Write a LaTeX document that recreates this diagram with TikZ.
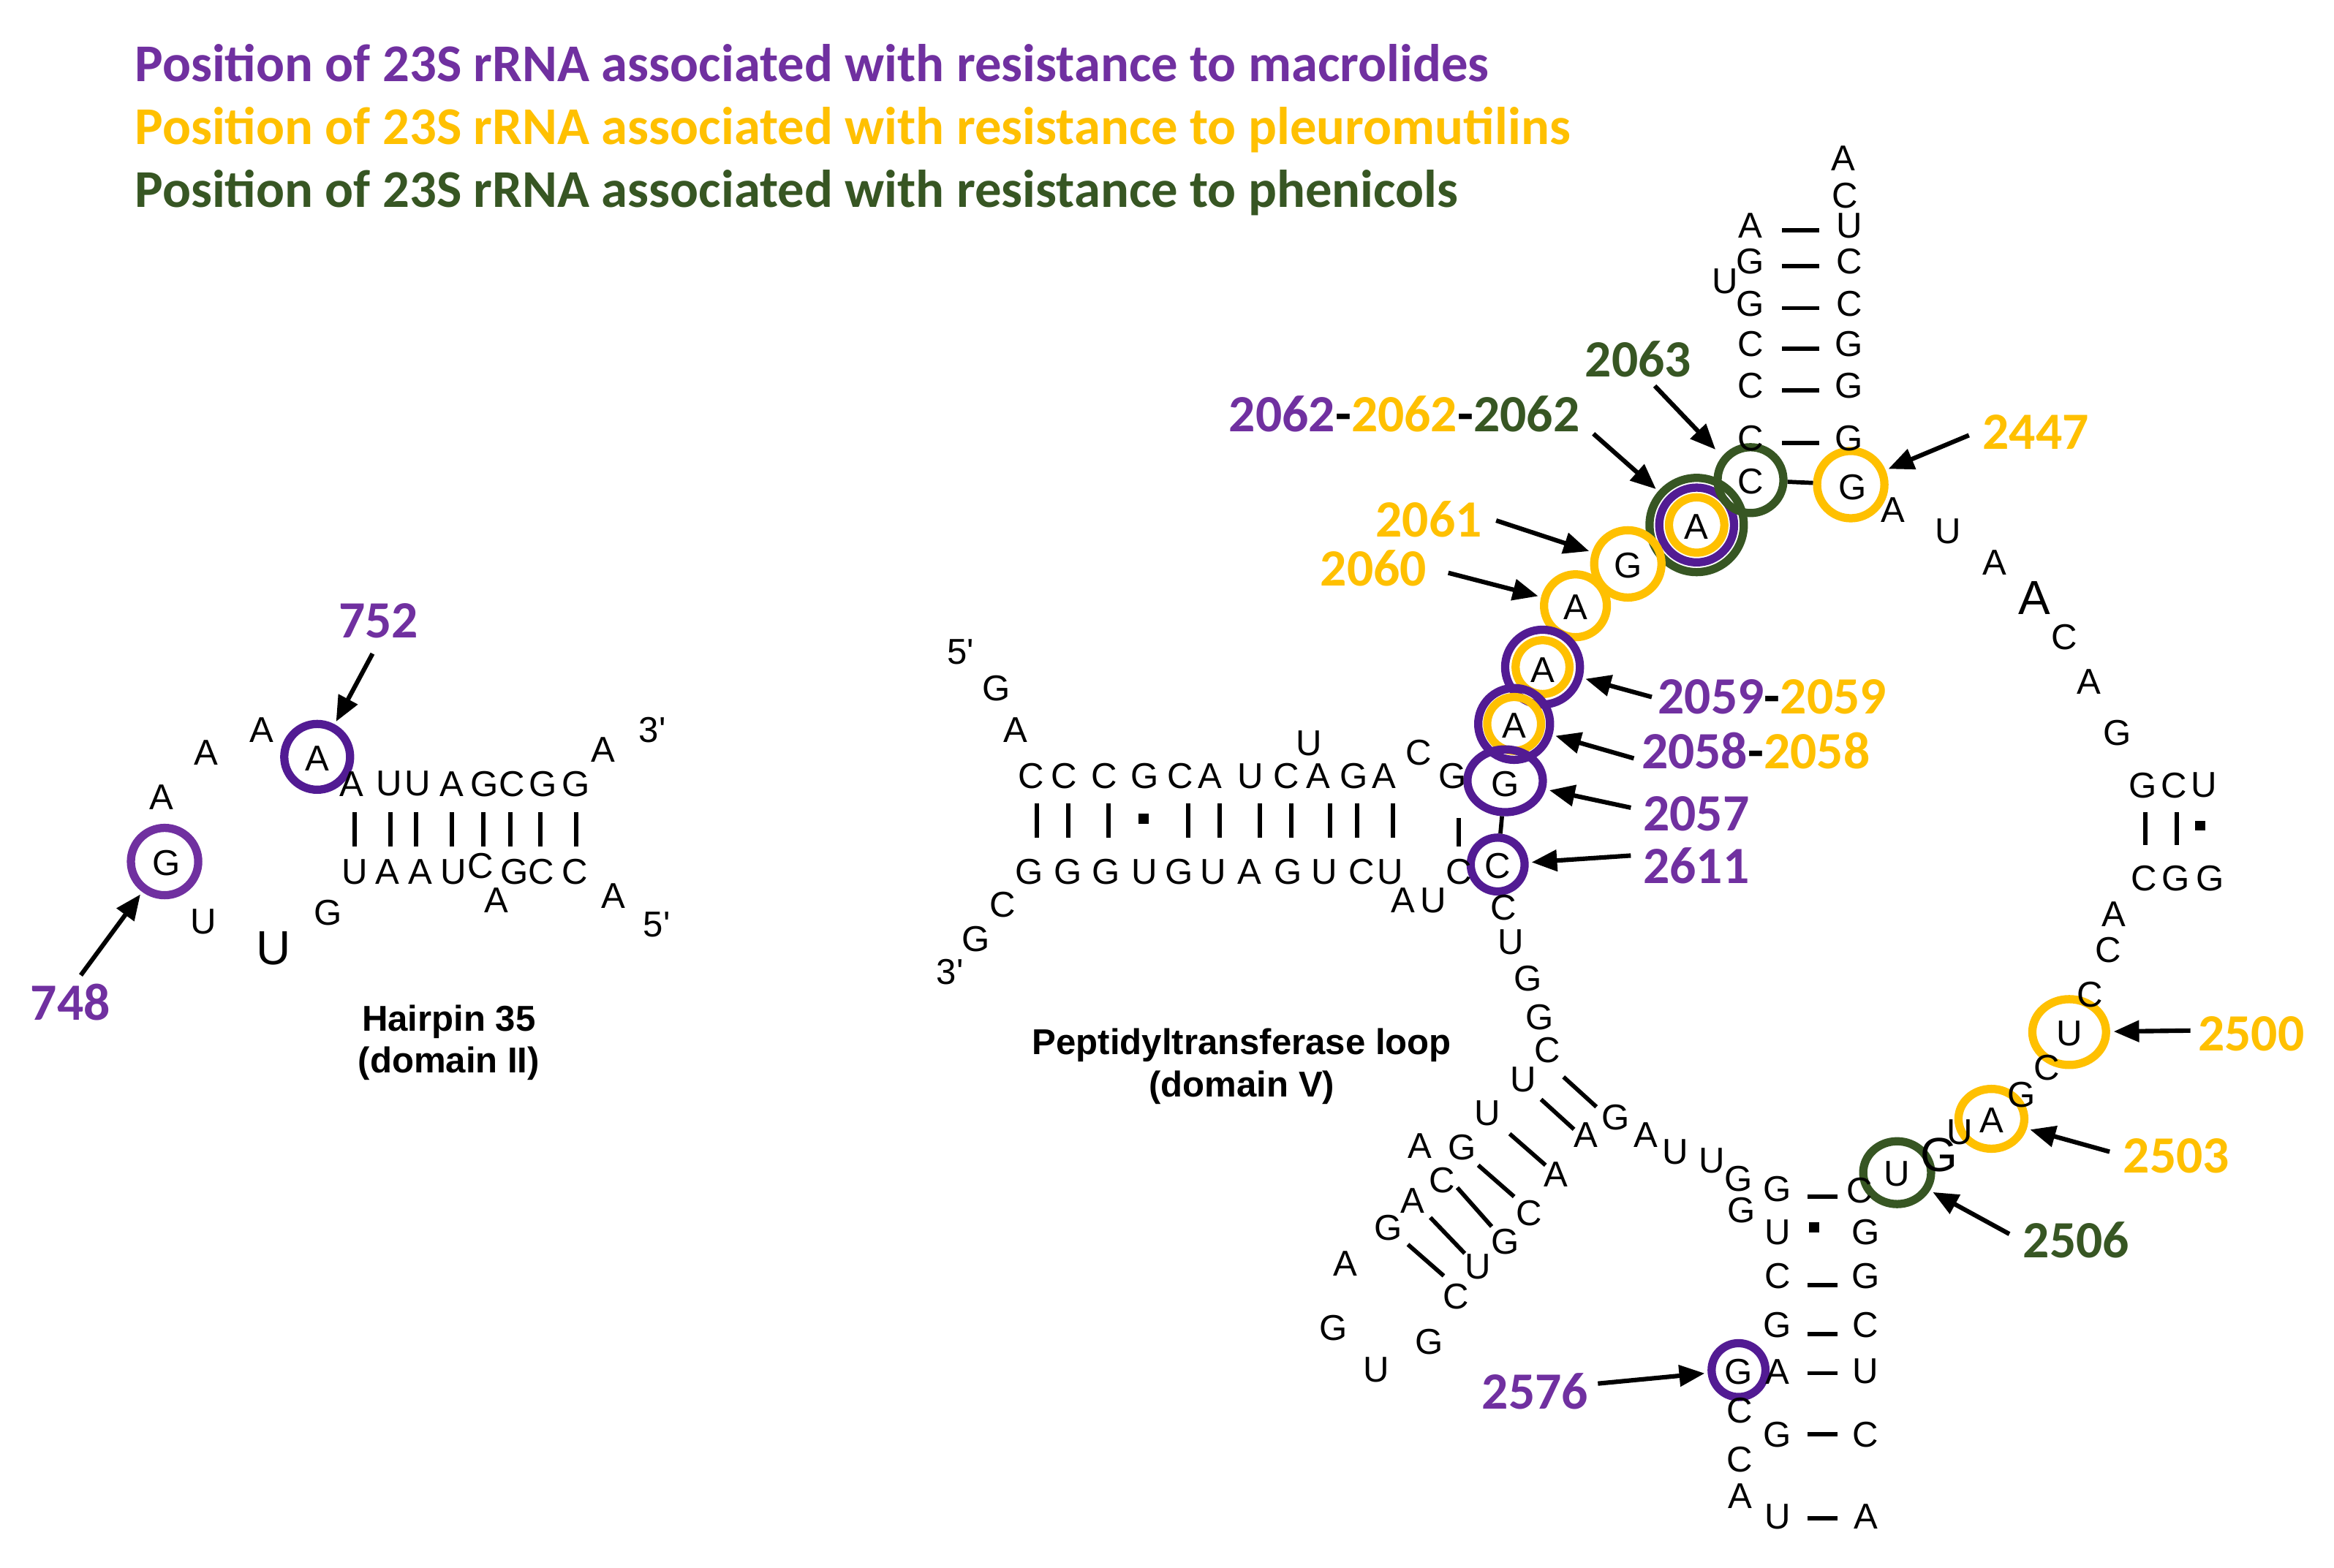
\documentclass[tikz,border=0pt]{standalone}
\usepackage{fontspec}
\setmainfont{Liberation Sans}
\newfontfamily\carl{Carlito}
\usetikzlibrary{arrows.meta}
\definecolor{mpur}{HTML}{7030A0}
\definecolor{cpur}{HTML}{521B93}
\definecolor{mora}{HTML}{FFC000}
\definecolor{mgrn}{HTML}{375623}
\newcounter{bn}
\newcommand\B[4][base]{\stepcounter{bn}\node[#1] (b\arabic{bn}) at (#2,#3) {#4};}
\newcommand\pr{\textquotesingle}
\begin{document}
\begin{tikzpicture}[x=1pt,y=-1pt,
 base/.style={font=\fontsize{24}{24}\selectfont,inner sep=0pt},
 big/.style={font=\fontsize{32}{32}\selectfont,inner sep=0pt},
 bar/.style={line width=2.8pt},
 ring/.style={draw,line width=5.5pt,circle,inner sep=0pt,fill=none},
 ttl/.style={font=\carl\bfseries\fontsize{35.5}{35.5}\selectfont,anchor=west,inner sep=0pt},
 num/.style={font=\carl\bfseries\fontsize{35}{35}\selectfont,inner sep=0pt},
 captxt/.style={font=\bfseries\fontsize{24}{28}\selectfont,align=center,inner sep=0pt},
 arr/.style={line width=3pt,-{Triangle[length=17pt,width=14pt]},shorten >=2pt}]
\useasboundingbox (0,0) rectangle (1560,1048);
% titles
\node[ttl,text=mpur] (t1) at (90,42) {Position of 23S rRNA associated with resistance to macrolides};
\node[ttl,text=mora] (t2) at (90,87) {Position of 23S rRNA associated with resistance to pleuromutilins};
\node[ttl,text=mgrn] (t3) at (90,129) {Position of 23S rRNA associated with resistance to phenicols};
% ---------- Hairpin 35
\node[ring,draw=cpur,minimum size=44pt] (h752) at (212,506) {};
\node[ring,draw=mpur,minimum size=45pt] (h748) at (110,576) {};
\B{138}{503}{A}\B{175}{488}{A}\B{212}{507}{A}\B{108}{533}{A}\B{111}{577}{G}
\B{136}{616}{U}\B[big]{183}{634}{U}\B{219}{610}{G}
\foreach \x/\l in {235/A,260/U,279/U,302/A,324/G,342/C,363/G,385/G}{\node[base] (ht\x) at (\x,524) {\l};}
\foreach \x/\l in {237/U,259/A,281/A,303/U,344/G,362/C,384/C}{\node[base] (hb\x) at (\x,583) {\l};}
\B{321}{579}{C}\B{332}{602}{A}\B{403}{501}{A}\B{436}{488}{3\pr}\B{410}{599}{A}\B{439}{618}{5\pr}
\foreach \x in {237,261,278,302,323,341,361,385}{\draw[bar] (\x,543) -- (\x,566);}
\node[num,text=mpur] (n752) at (253,415) {752};
\node[num,text=mpur] (n748) at (47,670) {748};
\draw[arr] (249,437) -- (h752);
\draw[arr] (54,652) -- (h748);
\node[captxt] (cap1) at (300,697) {Hairpin 35\\(domain II)};
% ---------- PT loop rings
\node[ring,draw=mgrn,minimum size=63pt] (r2062g) at (1134,351) {};
\node[ring,draw=cpur,minimum size=50pt] (r2062p) at (1134,351) {};
\node[ring,draw=mora,minimum size=37pt] (r2062o) at (1134,351) {};
\node[ring,draw=mgrn,minimum size=44pt] (r2063) at (1170,321) {};
\node[ring,draw=mora,minimum size=45pt] (r2447) at (1237,324) {};
\node[ring,draw=mora,minimum size=45pt] (r2061) at (1088,377) {};
\node[ring,draw=mora,minimum size=42pt] (r2060) at (1053,405) {};
\node[ring,draw=cpur,minimum size=50pt] (r2059p) at (1031,446) {};
\node[ring,draw=mora,minimum size=36pt] (r2059o) at (1031,446) {};
\node[ring,draw=cpur,minimum size=48pt] (r2058p) at (1012,484) {};
\node[ring,draw=mora,minimum size=36pt] (r2058o) at (1012,484) {};
\node[ring,draw=cpur,minimum size=42pt,xscale=1.2] (r2057) at (1006,522) {};
\node[ring,draw=cpur,minimum size=36pt] (r2611) at (1001,578) {};
\node[ring,draw=mora,minimum size=44pt,xscale=1.12] (r2500) at (1383,690) {};
\node[ring,draw=mora,minimum size=40pt,xscale=1.1] (r2503) at (1331,748) {};
\node[ring,draw=mgrn,minimum size=42pt,xscale=1.08] (r2506) at (1268,784) {};
\node[ring,draw=cpur,minimum size=36pt] (r2576) at (1162,916) {};
% top stem
\B{1232}{106}{A}\B{1233}{131}{C}
\foreach \y/\l/\r in {151/A/U,175/G/C,203/G/C,230/C/G,258/C/G,293/C/G}{\node[base] (sl\y) at (1170,\y) {\l}; \node[base] (sr\y) at (1236,\y) {\r}; \draw[bar] (1191,\y+3) -- (1216,\y+3);}
\B{1153}{188}{U}
\B{1170}{322}{C}\B{1238}{326}{G}\draw[bar] (r2063) -- (r2447);
\B{1134}{352}{A}\B{1088}{378}{G}\B{1053}{406}{A}\B{1031}{448}{A}\B{1012}{485}{A}\B{1006}{524}{G}\B{1001}{579}{C}
% loop right
\B{1265}{341}{A}\B{1302}{355}{U}\B{1333}{376}{A}\B[big]{1360}{400}{A}\B{1380}{426}{C}\B{1396}{456}{A}\B{1415}{490}{G}
\foreach \x/\l/\r in {1432/G/C,1453/C/G}{\node[base] (gt\x) at (\x,525) {\l}; \node[base] (gb\x) at (\x+1,587) {\r}; \draw[bar] (\x+2,543) -- (\x+2,565);}
\B{1473}{525}{U}\B{1477}{587}{G}\fill (1467,549) rectangle (1474,555);
\B{1413}{611}{A}\B{1409}{635}{C}\B{1397}{665}{C}\B{1383}{691}{U}\B{1368}{714}{C}\B{1351}{732}{G}\B{1331}{749}{A}\B{1310}{757}{U}\B[big]{1296}{772}{G}\B{1268}{785}{U}\B{1243}{796}{C}
% left stem
\B{642}{436}{5\pr}\B{666}{460}{G}\B{679}{488}{A}
\foreach \x/\l in {689/C,711/C,738/C,765/G,789/C,809/A,836/U,860/C,881/A,905/G,925/A,971/G}{\node[base] (pt\x) at (\x,519) {\l};}
\B{875}{497}{U}\B{948}{503}{C}
\foreach \x/\l in {688/G,714/G,739/G,765/U,788/G,811/U,835/A,861/G,885/U,910/C,929/U,975/C}{\node[base] (pb\x) at (\x,583) {\l};}
\B{938}{602}{A}\B{958}{602}{U}\B{670}{605}{C}\B{652}{628}{G}\B{635}{650}{3\pr}
\foreach \x in {693,714,741,794,815,842,863,889,907,931}{\draw[bar] (\x,537) -- (\x,560);}
\draw[bar] (975,547) -- (975,566);
\fill (761,544) rectangle (768,551);
\draw[bar] (r2057) -- (r2611);
% down chain
\B{1005}{607}{C}\B{1010}{630}{U}\B{1021}{654}{G}\B{1029}{680}{G}\B{1034}{702}{C}\B{1018}{722}{U}\B{994}{744}{U}
\B{977}{767}{G}\B{949}{766}{A}\B{964}{789}{C}\B{944}{803}{A}\B{928}{821}{G}\B{899}{845}{A}\B{891}{888}{G}\B{920}{916}{U}\B{955}{897}{G}
\B{973}{867}{C}\B{988}{847}{U}\B{1006}{830}{G}\B{1022}{811}{C}\B{1040}{785}{A}\B{1060}{759}{A}\B{1080}{747}{G}\B{1100}{759}{A}\B{1120}{770}{U}\B{1144}{776}{U}\B{1162}{788}{G}\B{1164}{809}{G}
\draw[bar] (1045,720) -- (1067,740); \draw[bar] (1030,735) -- (1052,755); \draw[bar] (1009,758) -- (1033,779);
\draw[bar] (988,779) -- (1012,800); \draw[bar] (974,794) -- (997,820); \draw[bar] (956,814) -- (979,838); \draw[bar] (941,832) -- (965,853);
% bottom stem
\foreach \y/\l/\r in {795/G/{},824/U/G,853/C/G,886/G/C,917/A/U,959/G/C,1014/U/A}{\node[base] (ql\y) at (1188,\y) {\l}; \node[base] (qr\y) at (1247,\y) {\r};}
\foreach \y in {800,859,892,918,959,1015}{\draw[bar] (1208,\y) -- (1228,\y);}
\fill (1209,817) rectangle (1216,824);
\B{1162}{917}{G}\B{1163}{943}{C}\B{1163}{976}{C}\B{1163}{1000}{A}
% labels PT
\node[num,text=mgrn] (n2063) at (1095,240) {2063};
\node[num,anchor=east] (n2062) at (1056,277) {\textcolor{mpur}{2062}-\textcolor{mora}{2062}-\textcolor{mgrn}{2062}};
\node[num,text=mora] (n2061) at (955,347) {2061};
\node[num,text=mora] (n2060) at (918,380) {2060};
\node[num,text=mora,anchor=west] (n2447) at (1325,289) {2447};
\node[num,anchor=west] (n2059) at (1108,466) {\textcolor{mpur}{2059}-\textcolor{mora}{2059}};
\node[num,anchor=west] (n2058) at (1097,502) {\textcolor{mpur}{2058}-\textcolor{mora}{2058}};
\node[num,text=mpur,anchor=west] (n2057) at (1098,544) {2057};
\node[num,text=mpur,anchor=west] (n2611) at (1098,579) {2611};
\node[num,text=mora,anchor=west] (n2500) at (1469,691) {2500};
\node[num,text=mora,anchor=west] (n2503) at (1419,773) {2503};
\node[num,text=mgrn,anchor=west] (n2506) at (1352,829) {2506};
\node[num,text=mpur] (n2576) at (1026,930) {2576};
\draw[arr] (1106,258) -- (1148,302);
\draw[arr] (1065,290) -- (r2062g);
\draw[arr] (1000,348) -- (r2061);
\draw[arr] (968,383) -- (r2060);
\draw[arr] (1316,291) -- (r2447);
\draw[arr] (1104,466) -- (r2059p);
\draw[arr] (1092,507) -- (r2058p);
\draw[arr] (1090,540) -- (r2057);
\draw[arr] (1090,572) -- (r2611);
\draw[arr] (1464,689) -- (r2500);
\draw[arr] (1410,770) -- (r2503);
\draw[arr] (1343,825) -- (r2506);
\draw[arr] (1068,925) -- (r2576);
\node[captxt] (cap2) at (830,713) {Peptidyltransferase loop\\(domain V)};
\end{tikzpicture}
\end{document}
